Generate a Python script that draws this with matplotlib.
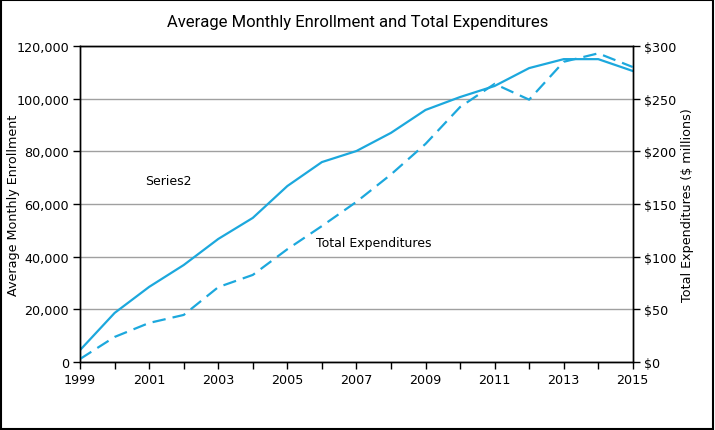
import matplotlib
matplotlib.use("Agg")
import matplotlib.pyplot as plt
from matplotlib.patches import Rectangle
from matplotlib.ticker import FuncFormatter, MultipleLocator, FixedLocator

years = list(range(1999, 2016))
enrollment = [4500, 18600, 28500, 36800, 46700, 54700, 66800, 75900, 80100,
              87000, 95700, 100600, 104800, 111600, 115000, 115000, 110500]
expenditures = [2.8, 23.7, 37, 44.6, 71, 82.6, 107, 129, 152,
                178, 207, 242, 264, 249, 285, 293, 280]

blue = "#1ca8dd"
fs = 9.2

fig = plt.figure(figsize=(7.15, 4.31), dpi=100)
ax = fig.add_axes([0.112, 0.158, 0.773, 0.733])
ax2 = ax.twinx()

ax.plot(years, enrollment, color=blue, lw=1.6)
ax2.plot(years, expenditures, color=blue, lw=1.6, dashes=(6, 3.2))

ax.set_xlim(1999, 2015)
ax.set_ylim(0, 120000)
ax2.set_ylim(0, 300)
ax.xaxis.set_major_locator(FixedLocator(years[::2]))
ax.xaxis.set_minor_locator(MultipleLocator(1))
ax.yaxis.set_major_locator(MultipleLocator(20000))
ax2.yaxis.set_major_locator(MultipleLocator(50))
ax.yaxis.set_major_formatter(FuncFormatter(lambda v, p: f"{int(v):,}"))
ax2.yaxis.set_major_formatter(FuncFormatter(lambda v, p: f"${int(v)}"))

ax.grid(axis="y", color="#a0a0a0", lw=1)
ax.set_axisbelow(True)
for a in (ax, ax2):
    for s in a.spines.values():
        s.set_color("black")
        s.set_linewidth(1)
ax.tick_params(axis="both", which="both", direction="out", length=5, width=1,
               labelsize=fs, colors="black", pad=3)
ax2.tick_params(axis="y", direction="out", length=5, width=1, labelsize=fs, pad=3)

ax.set_ylabel("Average Monthly Enrollment", fontsize=fs)
ax2.set_ylabel("Total Expenditures ($ millions)", fontsize=fs)
ax.yaxis.set_label_coords(-0.108, 0.5)
ax2.yaxis.set_label_coords(1.087, 0.5)

ax.text(2001.55, 69000, "Series2", fontsize=fs - 0.2, ha="center", va="center")
ax.text(2007.5, 45200, "Total Expenditures", fontsize=fs - 0.2, ha="center", va="center")

fig.text(0.5, 0.947, "Average Monthly Enrollment and Total Expenditures",
         ha="center", va="center", fontsize=12,
         family=["Liberation Sans Narrow", "Roboto", "DejaVu Sans"])

fig.patches.append(Rectangle((0.002, 0.003), 0.995, 0.994, transform=fig.transFigure,
                             fill=False, edgecolor="black", lw=1.5))

fig.savefig("out.png", dpi=100)
